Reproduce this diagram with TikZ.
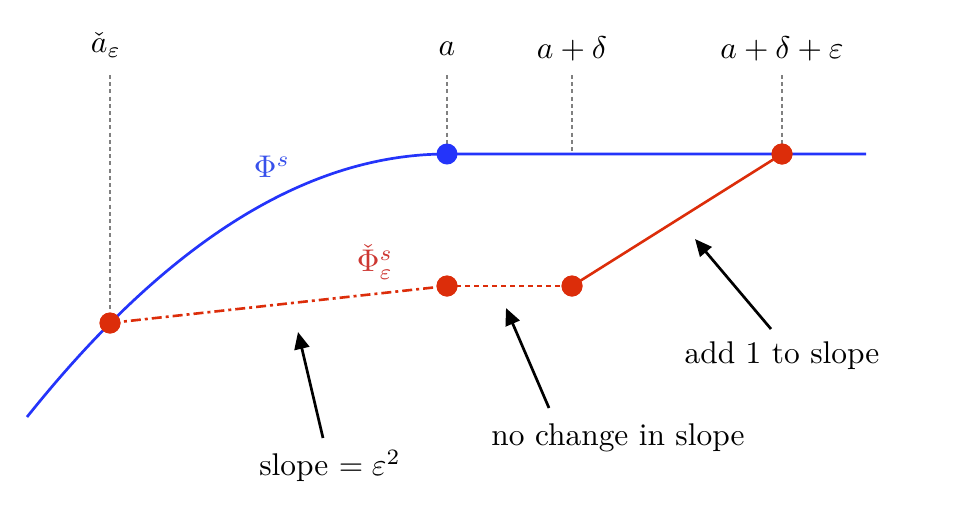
\documentclass[tikz,border=0pt]{standalone}
\usetikzlibrary{arrows.meta}
\definecolor{curveblue}{RGB}{36,52,250}
\definecolor{labelblue}{RGB}{55,80,235}
\definecolor{curvered}{RGB}{220,45,10}
\definecolor{labelred}{RGB}{205,55,50}
\tikzset{
  txt/.style={inner sep=0pt, scale=1.57},
  guide/.style={gray, line width=0.7pt, dash pattern=on 2pt off 1.6pt},
  bluecurve/.style={curveblue, line width=1.35pt},
  redline/.style={curvered, line width=1.3pt},
  dot/.style={circle, inner sep=0pt, minimum size=10.5pt},
  reddot/.style={dot, fill=curvered},
  bluedot/.style={dot, fill=curveblue},
  pointer/.style={black, line width=1.35pt, -{Triangle[length=8.5pt,width=7.5pt]}},
}
\begin{document}
\begin{tikzpicture}[x=0.5pt,y=-0.5pt]
\useasboundingbox (0,0) rectangle (957,531);
% top labels
\node[txt] (la1) at (106,45) {$\check{a}_\varepsilon$};
\node[txt] (la2) at (447,49) {$a$};
\node[txt] (la3) at (572,49) {$a+\delta$};
\node[txt] (la4) at (782,49) {$a+\delta+\varepsilon$};
% key points
\coordinate (s) at (27,417);
\coordinate (e) at (866,154);
\coordinate (t1) at (110,75);
\coordinate (t2) at (447,75);
\coordinate (t3) at (572,75);
\coordinate (t4) at (782,75);
\coordinate (b3) at (572,154);
% guides
\draw[guide] (t1) -- (110,323);
\draw[guide] (t2) -- (447,154);
\draw[guide] (t3) -- (b3);
\draw[guide] (t4) -- (782,154);
% blue curve
\draw[bluecurve] (s) .. controls (167,241.7) and (307,154) .. (447,154) -- (e);
% red path
\node[reddot] (r1) at (110,323) {};
\node[reddot] (r2) at (447,286) {};
\node[reddot] (r3) at (572,286) {};
\node[reddot] (r4) at (782,154) {};
\node[bluedot] (bA) at (447,154) {};
\draw[redline, dash pattern=on 5pt off 2pt on 1.5pt off 2pt] (r1.center) -- (r2.center);
\draw[redline, dash pattern=on 2.5pt off 2pt] (r2.center) -- (r3.center);
\draw[redline] (r3.center) -- (r4.center);
\node[reddot] at (r1) {};
\node[reddot] at (r2) {};
\node[reddot] at (r3) {};
\node[reddot] at (r4) {};
% curve labels
\node[txt, text=labelblue] (phi) at (272,167) {$\Phi^s$};
\node[txt, text=labelred] (phib) at (375,262) {$\check{\Phi}^s_\varepsilon$};
% annotations
\node[txt] (n1) at (330,466) {slope $=\varepsilon^2$};
\node[txt] (n2) at (618,438) {no change in slope};
\node[txt] (n3) at (782,356) {add 1 to slope};
\coordinate (h1) at (298,332);
\coordinate (h2) at (506,308);
\coordinate (h3) at (695,239);
\coordinate (a1) at (323,438);
\coordinate (a2) at (549,408);
\coordinate (a3) at (771,329);
\draw[pointer] (a1) -- (h1);
\draw[pointer] (a2) -- (h2);
\draw[pointer] (a3) -- (h3);
\end{tikzpicture}
\end{document}
